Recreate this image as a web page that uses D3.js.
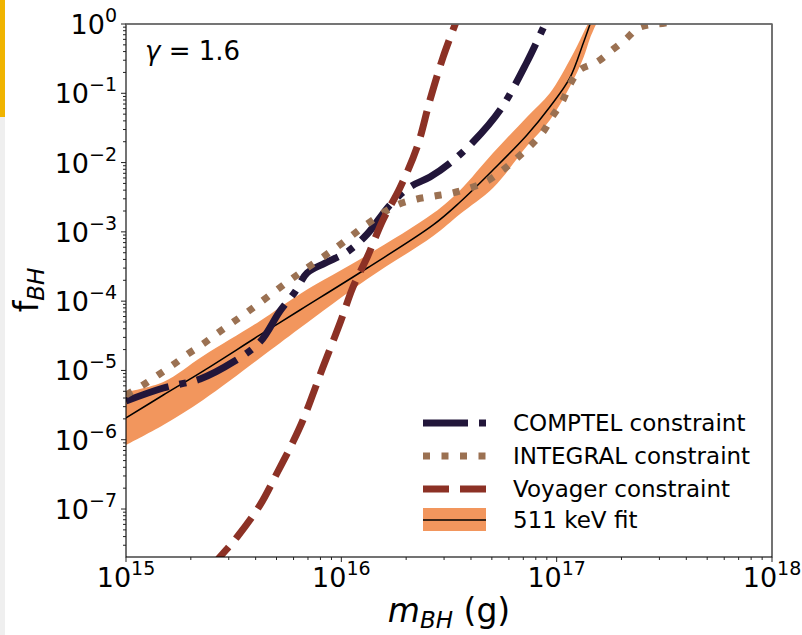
<!DOCTYPE html>
<html>
<head>
<meta charset="utf-8">
<script src="https://cdn.jsdelivr.net/npm/d3@7"></script>
<style>
  body { margin: 0; background: #fff; }
  text { font-family: "DejaVu Sans", sans-serif; fill: #000; }
</style>
</head>
<body>
<div id="chart"></div>
<script>
var svgWidth = 802;
var svgHeight = 635;

var margin = { top: 24, right: 30, bottom: 78, left: 126 };
var width = 772 - margin.left;
var height = 557 - margin.top;

// black hole mass (g) and fraction f_BH
var fitMass = [1.00e15, 1.49e15, 2.28e15, 4.19e15, 6.43e15, 1.32e16, 2.67e16, 3.56e16, 5.06e16, 7.28e16, 9.31e16, 1.15e17, 1.33e17, 1.43e17, 1.54e17];
var fitCentral = [2.06e-6, 4.42e-6, 9.8e-6, 3.25e-5, 7.45e-5, 3.01e-4, 1.26e-3, 2.70e-3, 7.81e-3, 2.50e-2, 6.4e-2, 0.165, 0.532, 1.0, 1.88];
var fitUpper = [4.89e-6, 6.81e-6, 1.62e-5, 5.17e-5, 1.27e-4, 4.63e-4, 1.85e-3, 4.0e-3, 1.37e-2, 4.55e-2, 0.101, 0.302, 0.741, 1.22, 3.1];
var fitLower = [8.39e-7, 1.63e-6, 3.75e-6, 1.51e-5, 4.10e-5, 2.09e-4, 8.71e-4, 1.81e-3, 4.30e-3, 1.73e-2, 4.12e-2, 0.123, 0.323, 0.628, 1.07];

var comptelMass = [1.00e15, 1.49e15, 2.21e15, 3.14e15, 4.19e15, 5.19e15, 6.09e15, 6.93e15, 8.40e15, 1.063e16, 1.32e16, 1.68e16, 2.08e16, 2.58e16, 3.20e16, 4.09e16, 5.46e16, 7.28e16, 8.83e16];
var comptelF = [3.62e-6, 5.58e-6, 7.53e-6, 1.32e-5, 2.58e-5, 7.21e-5, 1.36e-4, 2.55e-4, 3.55e-4, 5.12e-4, 9.31e-4, 2.44e-3, 4.44e-3, 6.19e-3, 9.87e-3, 1.98e-2, 5.74e-2, 0.283, 1.0];

var integralMass = [1.00e15, 1.20e15, 1.41e15, 1.65e15, 1.94e15, 2.28e15, 2.67e15, 3.77e15, 5.96e15, 9.55e15, 1.32e16, 1.81e16, 2.25e16, 2.72e16, 3.27e16, 3.96e16, 4.75e16, 5.63e16, 6.54e16, 7.52e16, 8.64e16, 9.51e16, 1.059e17, 1.15e17, 1.28e17, 1.54e17, 1.81e17, 2.10e17, 2.39e17, 2.71e17, 3.19e17, 4.16e17];
var integralF = [4.42e-6, 6.17e-6, 8.60e-6, 1.20e-5, 1.73e-5, 2.41e-5, 3.47e-5, 7.45e-5, 2.16e-4, 6.05e-4, 1.30e-3, 2.44e-3, 2.98e-3, 3.30e-3, 3.64e-3, 4.30e-3, 5.42e-3, 7.81e-3, 1.16e-2, 1.73e-2, 2.76e-2, 4.55e-2, 7.49e-2, 0.132, 0.217, 0.283, 0.421, 0.608, 0.876, 0.98, 1.03, 1.35];

var voyagerMass = [2.51e15, 2.73e15, 3.28e15, 4.19e15, 5.03e15, 5.96e15, 6.64e15, 8.22e15, 9.86e15, 1.133e16, 1.32e16, 1.56e16, 1.87e16, 2.25e16, 2.58e16, 2.97e16, 3.41e16];
var voyagerF = [1.46e-8, 2.03e-8, 3.95e-8, 1.14e-7, 3.31e-7, 9.27e-7, 1.93e-6, 1.12e-5, 4.84e-5, 1.60e-4, 4.34e-4, 1.48e-3, 4.30e-3, 1.68e-2, 8.00e-2, 0.334, 1.07];

var xTickExp = [15, 16, 17, 18];
var yTickExp = [0, -1, -2, -3, -4, -5, -6, -7];
var legendLabels = ["COMPTEL constraint", "INTEGRAL constraint", "Voyager constraint", "511 keV fit"];

var colors = {
  comptel: "#22163a",
  integral: "#9b7152",
  voyager: "#8c3125",
  band: "#f2965d"
};

var svg = d3.select("#chart")
  .append("svg")
  .attr("width", svgWidth)
  .attr("height", svgHeight);

// page edge decoration
svg.append("rect").attr("x", 0).attr("y", 0).attr("width", 5).attr("height", 117).attr("fill", "#f0b400");
svg.append("rect").attr("x", 0).attr("y", 117).attr("width", 5).attr("height", svgHeight - 117).attr("fill", "#efefef");

var chartGroup = svg.append("g")
  .attr("transform", `translate(${margin.left}, ${margin.top})`);

var xLogScale = d3.scaleLog().domain([1e15, 1e18]).range([0, width]);
var yLogScale = d3.scaleLog().domain([2.03e-8, 1]).range([height, 0]);

chartGroup.append("clipPath").attr("id", "plotClip")
  .append("rect").attr("width", width).attr("height", height);

var plot = chartGroup.append("g").attr("clip-path", "url(#plotClip)");

function zipped(ms, fs) {
  return ms.map((m, i) => [m, fs[i]]);
}

var lineGen = d3.line()
  .x(d => xLogScale(d[0]))
  .y(d => yLogScale(d[1]))
  .curve(d3.curveCatmullRom.alpha(0.5));

// 511 keV band
var bandData = fitMass.map((m, i) => ({ m: m, lo: fitLower[i], hi: fitUpper[i] }));
plot.append("path")
  .datum(bandData)
  .attr("fill", colors.band)
  .attr("d", d3.area()
    .x(d => xLogScale(d.m))
    .y0(d => yLogScale(d.lo))
    .y1(d => yLogScale(d.hi))
    .curve(d3.curveCatmullRom.alpha(0.5)));

plot.append("path")
  .attr("fill", "none")
  .attr("stroke", "#000")
  .attr("stroke-width", 1.5)
  .attr("d", lineGen(zipped(fitMass, fitCentral)));

plot.append("path")
  .attr("fill", "none")
  .attr("stroke", colors.comptel)
  .attr("stroke-width", 7)
  .attr("stroke-dasharray", "45,11,7,11")
  .attr("d", lineGen(zipped(comptelMass, comptelF)));

plot.append("path")
  .attr("fill", "none")
  .attr("stroke", colors.integral)
  .attr("stroke-width", 7)
  .attr("stroke-dasharray", "7,11.5")
  .attr("d", lineGen(zipped(integralMass, integralF)));

plot.append("path")
  .attr("fill", "none")
  .attr("stroke", colors.voyager)
  .attr("stroke-width", 7)
  .attr("stroke-dasharray", "26,11")
  .attr("d", lineGen(zipped(voyagerMass, voyagerF)));

// frame
chartGroup.append("rect")
  .attr("width", width).attr("height", height)
  .attr("fill", "none").attr("stroke", "#000").attr("stroke-width", 1.1);
chartGroup.append("line")
  .attr("x1", 0).attr("x2", width).attr("y1", 0).attr("y2", 0)
  .attr("stroke", "#777").attr("stroke-width", 1.6);

// ticks
var xMinor = [], yMinor = [];
for (var e = 15; e < 18; e++) for (var k = 2; k < 10; k++) xMinor.push(k * Math.pow(10, e));
for (var e2 = -8; e2 < 0; e2++) for (var k2 = 2; k2 < 10; k2++) {
  var v = k2 * Math.pow(10, e2);
  if (v >= 2.03e-8) yMinor.push(v);
}

var tickG = chartGroup.append("g").attr("stroke", "#222").attr("stroke-width", 1);
xTickExp.forEach(function(e) {
  var x = xLogScale(Math.pow(10, e));
  tickG.append("line").attr("x1", x).attr("x2", x).attr("y1", height).attr("y2", height + 5);
});
xMinor.forEach(function(v) {
  var x = xLogScale(v);
  tickG.append("line").attr("x1", x).attr("x2", x).attr("y1", height).attr("y2", height + 3);
});
yTickExp.forEach(function(e) {
  var y = yLogScale(Math.pow(10, e));
  tickG.append("line").attr("x1", 0).attr("x2", -5).attr("y1", y).attr("y2", y);
});
yMinor.forEach(function(v) {
  var y = yLogScale(v);
  tickG.append("line").attr("x1", 0).attr("x2", -3).attr("y1", y).attr("y2", y);
});

function powLabel(sel, e) {
  sel.append("tspan").text("10");
  sel.append("tspan").attr("dy", -12).style("font-size", "19px")
    .text(e < 0 ? "\u2212" + (-e) : String(e));
}

xTickExp.forEach(function(e) {
  var t = chartGroup.append("text")
    .attr("x", xLogScale(Math.pow(10, e)))
    .attr("y", height + 30)
    .attr("text-anchor", "middle")
    .style("font-size", "27px");
  powLabel(t, e);
});

yTickExp.forEach(function(e) {
  var t = chartGroup.append("text")
    .attr("x", -9)
    .attr("y", yLogScale(Math.pow(10, e)) + 10)
    .attr("text-anchor", "end")
    .style("font-size", "27px");
  powLabel(t, e);
});

// axis labels
var xLabel = svg.append("text")
  .attr("x", 449).attr("y", 622)
  .attr("text-anchor", "middle")
  .style("font-size", "33px");
xLabel.append("tspan").style("font-style", "italic").text("m");
xLabel.append("tspan").attr("dy", 6).style("font-style", "italic").style("font-size", "23px").text("BH");
xLabel.append("tspan").attr("dy", -6).text(" (g)");

var yLabel = svg.append("text")
  .attr("transform", "translate(38, 290) rotate(-90)")
  .attr("text-anchor", "middle")
  .style("font-size", "33px");
yLabel.append("tspan").text("f");
yLabel.append("tspan").attr("dy", 6).style("font-style", "italic").style("font-size", "23px").text("BH");

// gamma annotation
var gam = svg.append("text").attr("x", 145).attr("y", 60).style("font-size", "26px");
gam.append("tspan").style("font-style", "italic").text("\u03b3");
gam.append("tspan").text(" = 1.6");

// legend
var legend = svg.append("g");
var rowY = [423, 456, 489, 520];
var styles = [
  { c: colors.comptel, dash: "45,11,7,11" },
  { c: colors.integral, dash: "7,11.5" },
  { c: colors.voyager, dash: "26,11" }
];
styles.forEach(function(s, i) {
  legend.append("line")
    .attr("x1", 423).attr("x2", 486).attr("y1", rowY[i]).attr("y2", rowY[i])
    .attr("stroke", s.c).attr("stroke-width", 7).attr("stroke-dasharray", s.dash);
});
legend.append("rect").attr("x", 423).attr("y", 508).attr("width", 63).attr("height", 23).attr("fill", colors.band);
legend.append("line").attr("x1", 423).attr("x2", 486).attr("y1", 520).attr("y2", 520)
  .attr("stroke", "#000").attr("stroke-width", 1.5);

legendLabels.forEach(function(lbl, i) {
  legend.append("text")
    .attr("x", 513).attr("y", rowY[i] + 8)
    .style("font-size", "23px")
    .text(lbl);
});
</script>
</body>
</html>
